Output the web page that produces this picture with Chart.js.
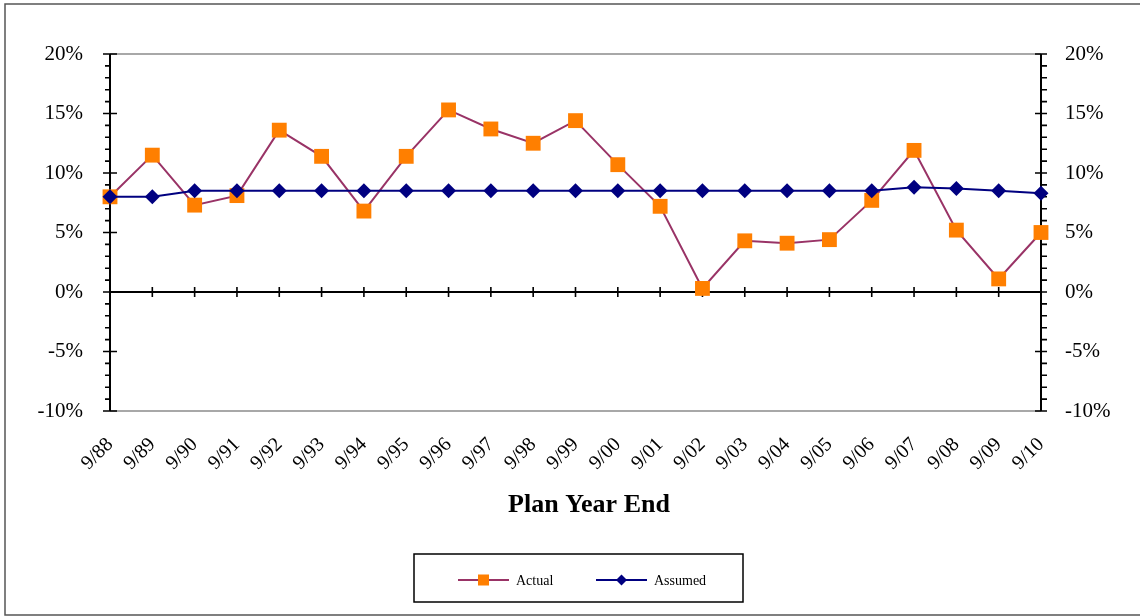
<!DOCTYPE html>
<html><head><meta charset="utf-8">
<script src="https://cdn.jsdelivr.net/npm/chart.js@4.4.1/dist/chart.umd.min.js"></script>
<style>html,body{margin:0;padding:0;background:#fff}canvas{display:block}</style>
</head><body>
<canvas id="c" width="1140" height="616"></canvas>
<script>
const categories = ['9/88','9/89','9/90','9/91','9/92','9/93','9/94','9/95','9/96','9/97','9/98','9/99','9/00','9/01','9/02','9/03','9/04','9/05','9/06','9/07','9/08','9/09','9/10'];
const actualReturns = [8.0, 11.5, 7.3, 8.1, 13.6, 11.4, 6.8, 11.4, 15.3, 13.7, 12.5, 14.4, 10.7, 7.2, 0.3, 4.3, 4.1, 4.4, 7.7, 11.9, 5.2, 1.1, 5.0];
const assumedReturns = [8.0, 8.0, 8.5, 8.5, 8.5, 8.5, 8.5, 8.5, 8.5, 8.5, 8.5, 8.5, 8.5, 8.5, 8.5, 8.5, 8.5, 8.5, 8.5, 8.8, 8.7, 8.5, 8.3];
const yMin = -10, yMax = 20, yStep = 5, yMinorStep = 1;
const seriesNames = ['Actual', 'Assumed'];
const xTitle = 'Plan Year End';

const SERIF = '"Liberation Serif", "Times New Roman", serif';
const ACTUAL_LINE = '#993366', ACTUAL_MARK = '#ff7f00', ASSUMED = '#000080';

const framePlugin = {
  id: 'frame',
  beforeDraw(chart) {
    const ctx = chart.ctx;
    ctx.save();
    ctx.fillStyle = '#fff';
    ctx.fillRect(0, 0, chart.width, chart.height);
    ctx.strokeStyle = '#555';
    ctx.lineWidth = 1.5;
    ctx.strokeRect(5, 4, chart.width + 10, chart.height - 5);
    ctx.restore();
  },
  beforeDatasetsDraw(chart) {
    const {ctx, chartArea: a, scales: {x, y}} = chart;
    const yTop = y.getPixelForValue(yMax), yBot = y.getPixelForValue(yMin), y0 = y.getPixelForValue(0);
    ctx.save();
    ctx.strokeStyle = '#8c8c8c'; ctx.lineWidth = 1.5;
    ctx.beginPath();
    ctx.moveTo(a.left, yTop); ctx.lineTo(a.right, yTop);
    ctx.moveTo(a.left, yBot); ctx.lineTo(a.right, yBot);
    ctx.stroke();
    ctx.strokeStyle = '#000'; ctx.lineWidth = 2;
    ctx.beginPath();
    ctx.moveTo(a.left, yTop); ctx.lineTo(a.left, yBot);
    ctx.moveTo(a.right, yTop); ctx.lineTo(a.right, yBot);
    ctx.moveTo(a.left, y0); ctx.lineTo(a.right, y0);
    ctx.stroke();
    ctx.lineWidth = 1.6;
    ctx.beginPath();
    for (let v = yMin; v <= yMax; v += yMinorStep) {
      const py = y.getPixelForValue(v);
      if (v % yStep === 0) {
        ctx.moveTo(a.left - 7, py); ctx.lineTo(a.left + 7, py);
        ctx.moveTo(a.right - 6, py); ctx.lineTo(a.right + 6, py);
      } else {
        ctx.moveTo(a.left - 5, py); ctx.lineTo(a.left, py);
        ctx.moveTo(a.right, py); ctx.lineTo(a.right + 6, py);
      }
    }
    categories.forEach((c, i) => {
      const px = x.getPixelForValue(i);
      ctx.moveTo(px, y0 - 5); ctx.lineTo(px, y0 + 5);
    });
    ctx.stroke();
    ctx.restore();
  },
  afterDraw(chart) {
    const ctx = chart.ctx;
    ctx.save();
    // axis title
    ctx.fillStyle = '#000';
    ctx.font = 'bold 26px ' + SERIF;
    ctx.textAlign = 'center';
    ctx.textBaseline = 'middle';
    ctx.fillText(xTitle, 589, 505);
    // legend
    ctx.strokeStyle = '#000'; ctx.lineWidth = 1.5;
    ctx.strokeRect(414, 554, 329, 48);
    const ly = 580;
    ctx.strokeStyle = ACTUAL_LINE; ctx.lineWidth = 2;
    ctx.beginPath(); ctx.moveTo(458, ly); ctx.lineTo(509, ly); ctx.stroke();
    ctx.fillStyle = ACTUAL_MARK;
    ctx.fillRect(483.5 - 5.5, ly - 5.5, 11, 11);
    ctx.strokeStyle = ASSUMED;
    ctx.beginPath(); ctx.moveTo(596, ly); ctx.lineTo(647, ly); ctx.stroke();
    ctx.fillStyle = ASSUMED;
    ctx.beginPath();
    ctx.moveTo(621.5, ly - 5.5); ctx.lineTo(627, ly); ctx.lineTo(621.5, ly + 5.5); ctx.lineTo(616, ly);
    ctx.closePath(); ctx.fill();
    ctx.fillStyle = '#000';
    ctx.font = '14px ' + SERIF;
    ctx.textBaseline = 'middle';
    ctx.textAlign = 'left';
    ctx.fillText(seriesNames[0], 516, ly + 1);
    ctx.fillText(seriesNames[1], 654, ly + 1);
    ctx.restore();
  }
};

new Chart(document.getElementById('c'), {
  type: 'line',
  data: {
    labels: categories,
    datasets: [
      {
        label: seriesNames[0], data: actualReturns, order: 1,
        borderColor: ACTUAL_LINE, borderWidth: 2,
        pointStyle: 'rect', pointRadius: 10.5, pointHoverRadius: 10.5,
        pointBackgroundColor: ACTUAL_MARK, pointBorderColor: ACTUAL_MARK, pointBorderWidth: 0,
        tension: 0, clip: false, yAxisID: 'y'
      },
      {
        label: seriesNames[1], data: assumedReturns, order: 0,
        borderColor: ASSUMED, borderWidth: 2,
        pointStyle: 'rectRot', pointRadius: 7.5, pointHoverRadius: 7.5,
        pointBackgroundColor: ASSUMED, pointBorderColor: ASSUMED, pointBorderWidth: 0,
        tension: 0, clip: false, yAxisID: 'y'
      }
    ]
  },
  options: {
    responsive: false,
    animation: false,
    events: [],
    layout: { padding: { top: 54, left: 0, right: 0, bottom: 0 } },
    plugins: { legend: { display: false }, tooltip: { enabled: false }, title: { display: false } },
    scales: {
      x: {
        type: 'category', offset: false,
        grid: { display: false, drawTicks: false }, border: { display: false },
        ticks: {
          autoSkip: false, maxRotation: 45, minRotation: 45, padding: 22,
          color: '#000', font: { family: SERIF, size: 20 }
        },
        title: { display: false },
        afterFit(s) { s.height = 205; }
      },
      y: {
        position: 'left', min: yMin, max: yMax,
        grid: { display: false, drawTicks: false }, border: { display: false },
        ticks: { stepSize: yStep, padding: 27, color: '#000', font: { family: SERIF, size: 21 }, callback: v => v + '%' },
        afterFit(s) { s.width = 110; }
      },
      y2: {
        position: 'right', min: yMin, max: yMax,
        grid: { display: false, drawTicks: false }, border: { display: false },
        ticks: { stepSize: yStep, padding: 24, color: '#000', font: { family: SERIF, size: 21 }, callback: v => v + '%' },
        afterFit(s) { s.width = 99; }
      }
    }
  },
  plugins: [framePlugin]
});
</script>
</body></html>
